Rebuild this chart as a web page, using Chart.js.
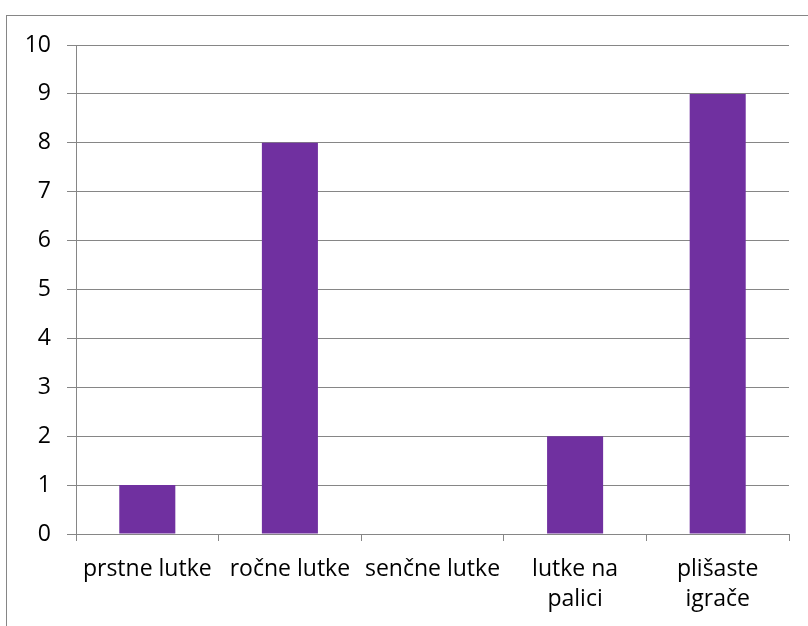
<!DOCTYPE html>
<html>
<head>
<meta charset="utf-8">
<script src="https://cdn.jsdelivr.net/npm/chart.js@4.4.1/dist/chart.umd.min.js"></script>
<style>
  html, body { margin: 0; padding: 0; background: #ffffff; }
  #wrap { width: 808px; height: 626px; position: relative; }
</style>
</head>
<body>
<div id="wrap"><canvas id="c" width="808" height="626"></canvas></div>
<script>
// Puppet types and counts
const categories = [
  'prstne lutke',
  'ročne lutke',
  'senčne lutke',
  ['lutke na', 'palici'],
  ['plišaste', 'igrače']
];
const counts = [1, 8, 0, 2, 9];
const yTicks = [0, 1, 2, 3, 4, 5, 6, 7, 8, 9, 10];

const GRID = '#868686';
const FONT = { family: '"Open Sans", "Liberation Sans", sans-serif', size: 23, lineHeight: 1.3 };

// Thin frame around the chart, open to the right and bottom
const framePlugin = {
  id: 'frame',
  beforeDraw(chart) {
    const ctx = chart.ctx;
    ctx.save();
    ctx.fillStyle = '#ffffff';
    ctx.fillRect(0, 0, chart.width, chart.height);
    ctx.strokeStyle = GRID;
    ctx.lineWidth = 1;
    ctx.strokeRect(6.5, 15.5, chart.width + 10, chart.height + 10);
    ctx.restore();
  }
};

new Chart(document.getElementById('c'), {
  type: 'bar',
  data: {
    labels: categories,
    datasets: [{
      data: counts,
      backgroundColor: '#7030A0',
      borderWidth: 0,
      categoryPercentage: 1,
      barPercentage: 0.393
    }]
  },
  options: {
    responsive: false,
    animation: false,
    layout: { padding: { left: 0, top: 45, right: 19, bottom: 0 } },
    plugins: { legend: { display: false }, tooltip: { enabled: false } },
    scales: {
      x: {
        grid: { display: true, drawOnChartArea: false, drawTicks: true, tickLength: 7, color: GRID, offset: true },
        border: { display: true, color: GRID, width: 1 },
        ticks: { color: '#000000', font: FONT, padding: 14, maxRotation: 0, autoSkip: false },
        afterFit(scale) { scale.height = 92; }
      },
      y: {
        min: 0,
        max: 10,
        afterBuildTicks(scale) { scale.ticks = yTicks.map(v => ({ value: v })); },
        grid: { color: GRID, lineWidth: 1, drawTicks: true, tickLength: 9 },
        border: { display: true, color: GRID, width: 1 },
        ticks: { color: '#000000', font: FONT, padding: 16 },
        afterFit(scale) { scale.width = 76; }
      }
    }
  },
  plugins: [framePlugin]
});
</script>
</body>
</html>
